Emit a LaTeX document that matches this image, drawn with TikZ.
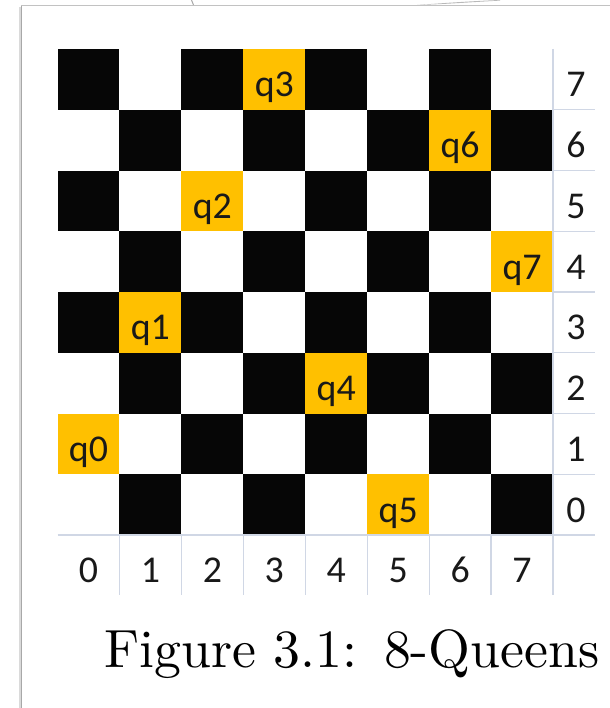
\documentclass[tikz,border=0pt]{standalone}
\usepackage{fontspec}
\usepackage{graphicx}
\newfontfamily\calfont{Carlito}
\definecolor{queengold}{HTML}{FFC000}
\definecolor{cellblack}{HTML}{060606}
\definecolor{gridblue}{HTML}{D0D7E5}
\definecolor{framegray}{HTML}{A8A8A8}
\definecolor{shadowgray}{HTML}{DADADA}
\begin{document}
\begin{tikzpicture}[x=1bp,y=-1bp,
  cellbox/.style={minimum width=61.94bp, minimum height=60.75bp, inner sep=0pt, outer sep=0pt},
  blackcell/.style={cellbox, fill=cellblack},
  queencell/.style={cellbox, fill=queengold},
  celltext/.style={font=\calfont\fontsize{38}{38}\selectfont, text=black!90, inner sep=0pt, anchor=base},
  gridline/.style={draw=gridblue, line width=1.2bp},
  frameline/.style={draw=framegray, line width=1bp},
  shadowline/.style={draw=shadowgray, line width=2bp}]
\useasboundingbox (0,0) rectangle (610,708);
\fill[white] (0,0) rectangle (610,708);
% page frame
\draw[shadowline] (19.5,7) -- (19.5,708);
\draw[frameline] (21,5.3) -- (21,708);
\draw[draw=framegray!70, line width=0.9bp] (21,5.3) -- (610,5.3);
\draw[draw=gray!70, line width=1bp] (191.5,0) .. controls (193,2) .. (193.5,5);
\fill[gray!55] (417,5) .. controls (445,3) and (470,1.2) .. (500,0) -- (500,0.6) .. controls (470,2.2) and (445,4.2) .. (417,5) -- cycle;
% board
\foreach \c in {0,...,7}{
  \foreach \r in {0,...,7}{
    \pgfmathtruncatemacro{\cellpar}{mod(\c+\r,2)}
    \ifnum\cellpar=1
      \node[blackcell] (cell-\c-\r) at ({57.5+(\c+0.5)*61.94},{49+(7.5-\r)*60.75}) {};
    \fi
  }
}
\foreach \c/\r in {0/1,1/3,2/5,3/7,4/2,5/0,6/6,7/4}{
  \node[queencell] (q\c) at ({57.5+(\c+0.5)*61.94},{49+(7.5-\r)*60.75}) {};
  \node[celltext] (qt\c) at ({57.5+(\c+0.5)*61.94},{49+(8-\r)*60.75-13}) {q\c};
}
% grid lines of the label row and column
\draw[gridline] (57.5,535) -- (595,535);
\draw[gridline] (553,49) -- (553,595);
\foreach \k in {1,...,7}{
  \draw[gridline] ({57.5+\k*61.94},535) -- ({57.5+\k*61.94},595);
  \draw[gridline] (553,{49+\k*60.75}) -- (595,{49+\k*60.75});
}
% labels
\foreach \k in {0,...,7}{
  \node[celltext] (col\k) at ({57.5+(\k+0.5)*61.94},582) {\k};
  \node[celltext] (row\k) at (576,{49+(8-\k)*60.75-13}) {\k};
}
% caption
\node[anchor=base west, inner sep=0pt] (caption) at (104,667)
  {\scalebox{5.4}{\fontsize{10}{12}\selectfont Figure 3.1:\hspace{4.9pt}8-Queens}};
\end{tikzpicture}
\end{document}
